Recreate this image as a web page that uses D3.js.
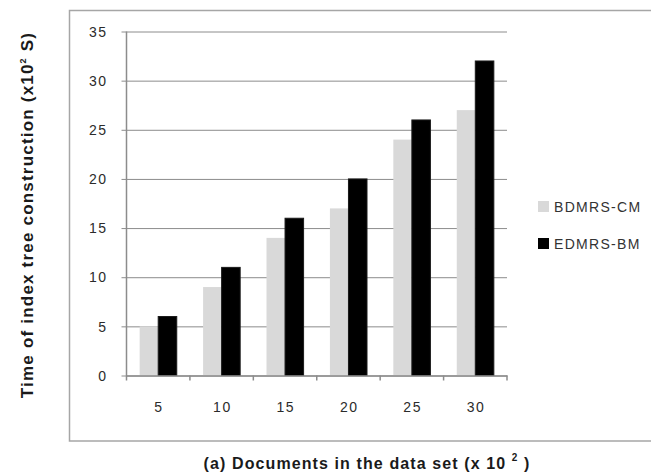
<!DOCTYPE html>
<html>
<head>
<meta charset="utf-8">
<script src="https://cdn.jsdelivr.net/npm/d3@7/dist/d3.min.js"></script>
<style>
  html, body { margin: 0; padding: 0; background: #fff; }
  svg { display: block; font-family: "Liberation Sans", Arial, sans-serif; }
</style>
</head>
<body>
<svg id="chart" width="651" height="474"></svg>
<script>
// Documents in the data set (x 10^2)
const categories = ["5", "10", "15", "20", "25", "30"];
const seriesNames = ["BDMRS-CM", "EDMRS-BM"];
// Time of index tree construction (x 10^2 s)
const bdmrsCM = [5, 9, 14, 17, 24, 27];
const edmrsBM = [6, 11, 16, 20, 26, 32];
const yTicks = [0, 5, 10, 15, 20, 25, 30, 35];

const seriesColors = ["#d9d9d9", "#000000"];
const table = categories.map((c, i) => ({ cat: c, values: [bdmrsCM[i], edmrsBM[i]] }));

const svg = d3.select("#chart");
const plot = { left: 126.5, right: 507, top: 31.5, bottom: 375.5 };

// Outer chart frame
svg.append("rect")
  .attr("x", 69.5).attr("y", 10.5)
  .attr("width", 600).attr("height", 430.5)
  .attr("fill", "none").attr("stroke", "#a6a6a6").attr("stroke-width", 1.5);

const x = d3.scaleBand().domain(categories).range([plot.left, plot.right]).paddingInner(0).paddingOuter(0);
const xInner = d3.scaleBand().domain(seriesNames).range([0, x.bandwidth()]).paddingOuter(0.71).paddingInner(0);
const y = d3.scaleLinear().domain([0, 35]).range([plot.bottom, plot.top]);

// Horizontal gridlines with tick labels
const yAxis = svg.append("g")
  .attr("transform", `translate(${plot.left},0)`)
  .call(d3.axisLeft(y).tickValues(yTicks).tickSize(-(plot.right - plot.left)).tickSizeOuter(0).tickPadding(19));
yAxis.select(".domain").remove();
yAxis.selectAll(".tick line")
  .attr("x1", -5)
  .attr("stroke", "#8c8c8c").attr("stroke-width", 1);
yAxis.selectAll(".tick text")
  .attr("fill", "#2b2b2b").attr("font-size", 14).attr("letter-spacing", 1.5).attr("dy", "0.34em");

// Bars
const groups = svg.append("g").selectAll("g")
  .data(table).join("g")
  .attr("transform", d => `translate(${x(d.cat)},0)`);
groups.selectAll("rect")
  .data(d => d.values.map((v, j) => ({ name: seriesNames[j], value: v, j })))
  .join("rect")
  .attr("x", d => xInner(d.name))
  .attr("y", d => y(d.value))
  .attr("width", xInner.bandwidth())
  .attr("height", d => y(0) - y(d.value))
  .attr("fill", d => seriesColors[d.j])
  .attr("stroke", d => d.j === 1 ? "#1a1a1a" : "none")
  .attr("stroke-width", 1);

// Vertical axis line
svg.append("line")
  .attr("x1", plot.left).attr("x2", plot.left)
  .attr("y1", plot.top).attr("y2", plot.bottom + 5)
  .attr("stroke", "#8c8c8c").attr("stroke-width", 1.5);

// Category axis
const xAxis = svg.append("g")
  .attr("transform", `translate(0,${plot.bottom})`)
  .call(d3.axisBottom(x).tickSize(0).tickPadding(27));
xAxis.select(".domain").attr("stroke", "#8c8c8c").attr("stroke-width", 1.5);
xAxis.selectAll(".tick text")
  .attr("fill", "#2b2b2b").attr("font-size", 14).attr("letter-spacing", 1.5)
  .attr("dx", 0.75);
xAxis.selectAll(".tick line").remove();
// tick marks at category boundaries
svg.append("g").selectAll("line")
  .data(categories.slice(1).concat(["_end"]))
  .join("line")
  .attr("x1", (d, i) => i < categories.length - 1 ? x(d) : plot.right)
  .attr("x2", (d, i) => i < categories.length - 1 ? x(d) : plot.right)
  .attr("y1", plot.bottom).attr("y2", plot.bottom + 5)
  .attr("stroke", "#8c8c8c").attr("stroke-width", 1.5);

// Legend
const legend = svg.append("g").selectAll("g")
  .data(seriesNames).join("g")
  .attr("transform", (d, i) => `translate(538,${201 + i * 37})`);
legend.append("rect")
  .attr("width", 11).attr("height", 11)
  .attr("fill", (d, i) => seriesColors[i]);
legend.append("text")
  .attr("x", 16).attr("y", 11)
  .attr("fill", "#333").attr("font-size", 14).attr("letter-spacing", 1.3)
  .text(d => d);

// Axis titles
const yTitle = svg.append("text")
  .attr("transform", "translate(33,215) rotate(-90)")
  .attr("text-anchor", "middle")
  .attr("font-size", 17).attr("font-weight", "bold").attr("fill", "#1a1a1a")
  .attr("letter-spacing", 1.2);
yTitle.append("tspan").text("Time of index tree construction (x10");
yTitle.append("tspan").attr("dy", -7).attr("font-size", 9).text("2");
yTitle.append("tspan").attr("dy", 7).text(" S)");

const xTitle = svg.append("text")
  .attr("x", 367).attr("y", 469)
  .attr("text-anchor", "middle")
  .attr("font-size", 16).attr("font-weight", "bold").attr("fill", "#1a1a1a")
  .attr("letter-spacing", 1.1);
xTitle.append("tspan").text("(a) Documents in the data set (x 10 ");
xTitle.append("tspan").attr("dy", -8).attr("font-size", 10).text("2");
xTitle.append("tspan").attr("dy", 8).text(" )");
</script>
</body>
</html>
